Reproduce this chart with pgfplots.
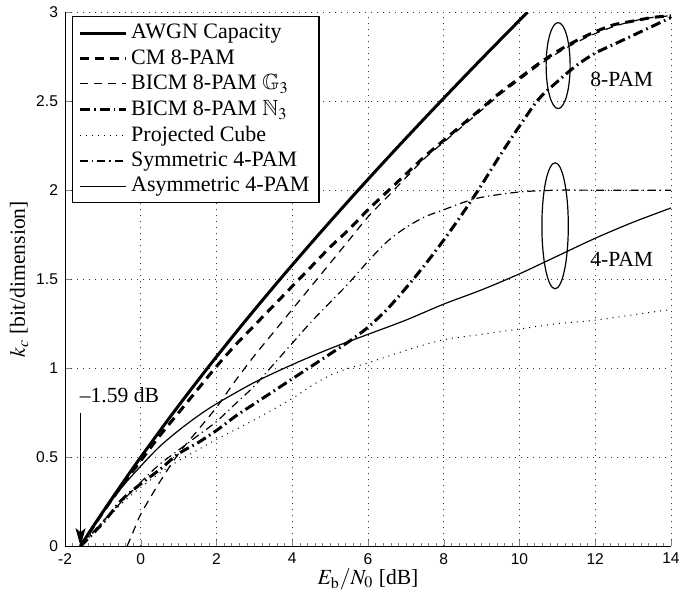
\documentclass[border=0pt]{standalone}
\usepackage{mathptmx}
\usepackage{amssymb}
\usepackage[no-math]{fontspec}
\setmainfont{Liberation Serif}
\setsansfont{Liberation Sans}
\usepackage{pgfplots}
\pgfplotsset{compat=1.18}
\usetikzlibrary{arrows.meta}
\begin{document}
\begin{tikzpicture}[font=\fontsize{10.8}{12.9}\selectfont]
\begin{axis}[
  scale only axis,
  width=303pt, height=267pt,
  xmin=-2, xmax=14, ymin=0, ymax=3,
  xtick={-2,0,...,14}, ytick={0,0.5,...,3},
  minor x tick num=9,
  axis x line*=bottom, axis y line*=left,
  tick align=inside,
  major tick length=3pt, minor tick length=1.5pt,
  grid=major,
  major grid style={black!80, line width=0.4pt, dash pattern=on 0.4pt off 2.6pt},
  /pgf/number format/assume math mode=true,
  tick label style={font=\fontsize{7.8}{9}\sffamily},
  yticklabel style={/pgf/number format/fixed},
  xlabel={$E_{\mathrm{b}}/N_0$ [dB]},
  ylabel={$k_c$ [bit/dimension]},
  every axis x label/.style={at={([yshift=-16.5pt]rel axis cs:0.5,0)}, anchor=center},
  every axis y label/.style={at={([xshift=-23pt]rel axis cs:0,0.5)}, anchor=center, rotate=90},
  legend cell align=left,
  legend image code/.code={\draw[#1] (0pt,0pt) -- (23pt,0pt);},
  legend style={at={(rel axis cs:0.0116,0.9925)}, anchor=north west,
    draw=black, line width=0.6pt, fill=white, row sep=0.2pt,
    nodes={inner sep=1.8pt}, font=\fontsize{11}{13}\selectfont},
]
% AWGN capacity
\addplot[black, line width=1.5pt, smooth] coordinates {
(-1.59,0) (-1.29,0.1) (-0.976,0.2) (-0.817,0.25) (-0.414,0.375) (0,0.5) (0.86,0.75)
(1.761,1) (2.701,1.25) (3.68,1.5) (4.694,1.75) (5.74,2) (6.818,2.25) (7.924,2.5)
(9.056,2.75) (10.212,3)};
\addlegendentry{AWGN Capacity}
% CM 8-PAM
\addplot[black, line width=1.5pt, dash pattern=on 4.5pt off 3pt, smooth] coordinates {
(-1.59,0) (-1,0.19) (-0.5,0.34) (0,0.48) (0.5,0.62) (1,0.75) (1.5,0.88) (2,1.01)
(2.5,1.13) (3,1.24) (3.5,1.35) (4,1.46) (4.5,1.57) (5,1.68) (5.5,1.78) (6,1.89)
(6.5,1.99) (7,2.09) (7.5,2.19) (8,2.28) (8.5,2.37) (9,2.46) (9.5,2.55) (10,2.63)
(10.5,2.71) (11,2.78) (11.5,2.84) (12,2.89) (12.5,2.93) (13,2.95) (13.5,2.97) (14,2.98)};
\addlegendentry{CM 8-PAM}
% BICM 8-PAM G3
\addplot[black, line width=0.6pt, dash pattern=on 4pt off 3pt, smooth] coordinates {
(-0.36,0) (-0.2,0.08) (0,0.18) (0.5,0.36) (1,0.52) (1.5,0.65) (2,0.78) (2.5,0.93)
(3,1.07) (3.5,1.20) (4,1.33) (4.5,1.46) (5,1.59) (5.5,1.72) (6,1.85) (6.5,1.96)
(7,2.07) (7.5,2.18) (8,2.27) (8.5,2.36) (9,2.45) (9.5,2.54) (10,2.62) (10.5,2.70)
(11,2.77) (11.5,2.83) (12,2.88) (12.5,2.92) (13,2.95) (13.5,2.97) (14,2.98)};
\addlegendentry{BICM 8-PAM $\mathbb{G}_3$}
% BICM 8-PAM N3
\addplot[black, line width=1.5pt, dash pattern=on 5pt off 2pt on 0.8pt off 2pt, smooth] coordinates {
(-1.59,0) (-1,0.13) (-0.5,0.26) (0,0.35) (0.5,0.43) (1,0.52) (1.5,0.58) (2,0.65)
(2.5,0.73) (3,0.80) (3.5,0.87) (4,0.94) (4.5,1.01) (5,1.08) (5.5,1.15) (6,1.23)
(6.5,1.33) (7,1.45) (7.5,1.58) (8,1.72) (8.5,1.87) (9,2.03) (9.5,2.20) (10,2.36)
(10.5,2.51) (11,2.61) (11.5,2.70) (12,2.77) (12.5,2.82) (13,2.87) (13.5,2.92) (14,2.97)};
\addlegendentry{BICM 8-PAM $\mathbb{N}_3$}
% Projected cube
\addplot[black, line width=0.5pt, dash pattern=on 0.5pt off 2.5pt, smooth] coordinates {
(-1.59,0) (-1,0.13) (-0.5,0.24) (0,0.33) (0.5,0.41) (1,0.48) (1.5,0.54) (2,0.60)
(3,0.71) (4,0.83) (4.5,0.90) (5,0.96) (5.5,1.00) (6,1.03) (7,1.10) (8,1.16) (9,1.19)
(10,1.22) (11,1.25) (12,1.27) (13,1.30) (14,1.33)};
\addlegendentry{Projected Cube}
% Symmetric 4-PAM
\addplot[black, line width=0.6pt, dash pattern=on 4pt off 2pt on 0.6pt off 2pt, smooth] coordinates {
(-1.59,0) (-1,0.14) (0,0.36) (0.5,0.46) (1,0.54) (1.5,0.62) (2,0.70) (2.5,0.80)
(3,0.90) (3.5,1.02) (4,1.14) (4.5,1.26) (5,1.37) (5.5,1.48) (6,1.60) (6.5,1.71)
(7,1.79) (7.5,1.85) (8,1.89) (8.5,1.93) (9,1.96) (10,1.99) (11,2.0) (12,2.0) (13,2.0) (14,2.0)};
\addlegendentry{Symmetric 4-PAM}
% Asymmetric 4-PAM
\addplot[black, line width=0.6pt, smooth] coordinates {
(-1.59,0) (-1,0.19) (-0.5,0.33) (0,0.45) (0.5,0.56) (1,0.65) (1.5,0.73) (2,0.80)
(3,0.92) (4,1.02) (5,1.11) (6,1.19) (7,1.27) (8,1.36) (9,1.44) (10,1.53) (11,1.63)
(12,1.73) (13,1.82) (14,1.90)};
\addlegendentry{Asymmetric 4-PAM}
% annotations
\draw[line width=0.6pt] (axis cs:11.02,2.70) ellipse [x radius=6pt, y radius=21.5pt];
\draw[line width=0.6pt] (axis cs:10.94,1.80) ellipse [x radius=6.6pt, y radius=31.5pt];
\node[anchor=center] at (axis cs:12.7,2.62) {8-PAM};
\node[anchor=center] at (axis cs:12.7,1.61) {4-PAM};
\draw[line width=0.5pt, -{Stealth[length=9pt, width=5pt, inset=2pt]}] (axis cs:-1.59,0.75) -- (axis cs:-1.59,0);
\node[anchor=west, inner sep=0pt] at (axis cs:-1.62,0.85) {--1.59 dB};
\end{axis}
\path ([xshift=-32.5pt,yshift=-23.5pt]current axis.south west) rectangle ([xshift=12.5pt,yshift=6pt]current axis.north east);
\end{tikzpicture}
\end{document}
